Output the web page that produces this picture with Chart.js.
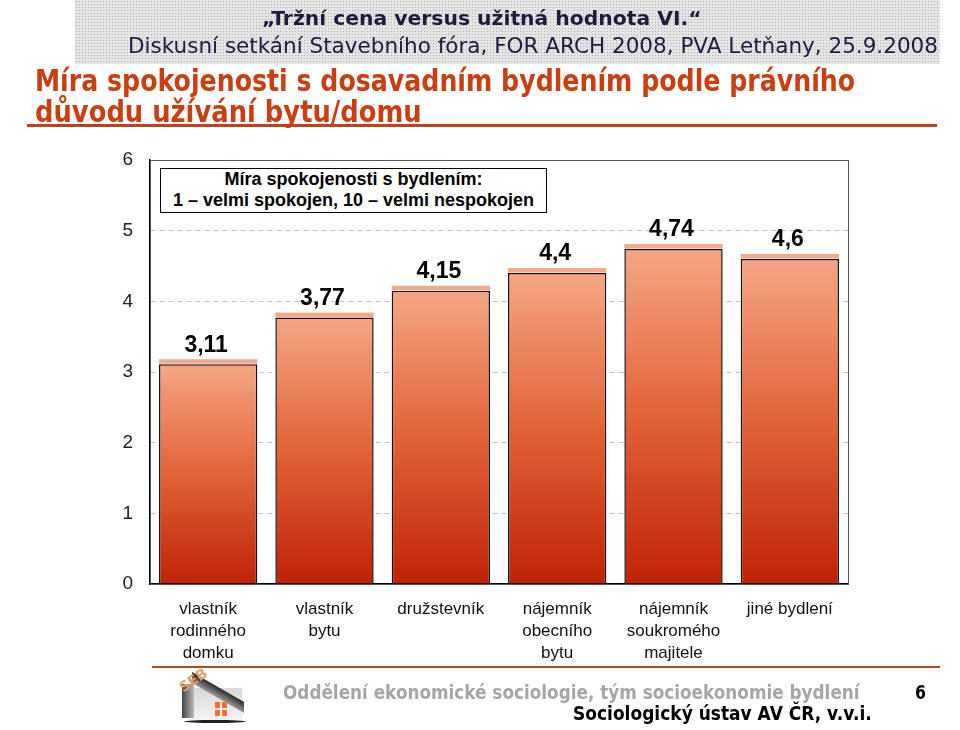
<!DOCTYPE html>
<html><head><meta charset="utf-8">
<script src="https://cdn.jsdelivr.net/npm/chart.js@4"></script>
<style>
body{margin:0;width:960px;height:730px;position:relative;background:#fff;overflow:hidden;font-family:"DejaVu Sans",sans-serif}
.t{position:absolute;white-space:nowrap;transform-origin:0 50%;line-height:1;z-index:3}
#band{position:absolute;left:75px;top:0;width:865px;height:64px;background-color:#e4e4e4;background-image:radial-gradient(#b0b0b0 0.7px,transparent 1px);background-size:3px 3px;z-index:0}
#uline{position:absolute;left:27px;top:124px;width:910px;height:3px;background:#c4401a;z-index:0}
#fline{position:absolute;left:152px;top:666px;width:788px;height:2px;background:#b24a22;z-index:0}
#legendbox{position:absolute;left:160px;top:168px;width:385px;height:43px;border:1px solid #000;background:#fff;z-index:3;font:bold 18px "Liberation Sans",Arial,sans-serif;text-align:center;line-height:21px;color:#000}
canvas{position:absolute;left:0;top:0;z-index:1}
#logo{position:absolute;left:178px;top:664px;width:72px;height:64px;z-index:2}
#wall{position:absolute;left:10px;top:24px;width:54px;height:32px;background:linear-gradient(#d8d8d8,#f4f4f4)}
#roof{position:absolute;left:14px;top:8px;width:52px;height:11px;background:linear-gradient(#2a2a2a,#9a9a9a);transform:skewY(30deg);transform-origin:0 0}
#roof2{position:absolute;left:4px;top:20px;width:12px;height:34px;background:linear-gradient(90deg,#444,#bbb)}
#seb{position:absolute;left:0px;top:8px;font:bold 14px "DejaVu Sans",sans-serif;color:#e9a060;transform:rotate(-35deg)}
.win{position:absolute;width:5px;height:6px;background:#f07030}
#base{position:absolute;left:6px;top:56px;width:62px;height:3px;border-radius:50%;background:#222}
</style></head><body>
<div id="band"></div>
<div id="uline"></div>
<div id="fline"></div>
<div class="t" data-w="440" style="left:262px;top:18px;font-weight:bold;font-size:20px;color:#1c1c3c">„Tržní cena versus užitná hodnota VI.“</div>
<div class="t" data-w="810" style="left:128px;top:46px;font-size:22px;color:#1c1c40">Diskusní setkání Stavebního fóra, FOR ARCH 2008, PVA Letňany, 25.9.2008</div>
<div class="t" data-w="820" style="left:35px;top:80px;font-weight:bold;font-size:31px;color:#cc3d0f">Míra spokojenosti s dosavadním bydlením podle právního</div>
<div class="t" data-w="387" style="left:35px;top:111px;font-weight:bold;font-size:31px;color:#cc3d0f">důvodu užívání bytu/domu</div>
<div class="t" data-w="577" style="left:283px;top:692px;font-weight:bold;font-size:20px;color:#a6a6a6">Oddělení ekonomické sociologie, tým socioekonomie bydlení</div>
<div class="t" data-w="299" style="left:573px;top:713px;font-weight:bold;font-size:20px;color:#000">Sociologický ústav AV ČR, v.v.i.</div>
<div class="t" data-w="11" style="left:915px;top:692px;font-weight:bold;font-size:20px;color:#000">6</div>
<div id="legendbox">Míra spokojenosti s bydlením:<br>1 – velmi spokojen, 10 – velmi nespokojen</div>
<div id="logo">
  <div id="wall"></div>
  <div id="roof2"></div>
  <div id="roof"></div>
  <div id="seb">SEB</div>
  <div class="win" style="left:37px;top:38px"></div><div class="win" style="left:44px;top:38px"></div>
  <div class="win" style="left:37px;top:46px"></div><div class="win" style="left:44px;top:46px"></div>
  <div id="base"></div>
</div>
<canvas id="c" width="960" height="730"></canvas>
<script>
const categories = [["vlastník","rodinného","domku"],["vlastník","bytu"],["družstevník"],["nájemník","obecního","bytu"],["nájemník","soukromého","majitele"],["jiné bydlení"]];
const values = [3.11, 3.77, 4.15, 4.4, 4.74, 4.6];
const valueLabels = ["3,11", "3,77", "4,15", "4,4", "4,74", "4,6"];
const yMin = 0, yMax = 6, yStep = 1;

document.querySelectorAll('.t').forEach(el => {
  const cy = parseFloat(el.style.top);
  const h = el.offsetHeight;
  el.style.top = (cy - h / 2) + 'px';
  const tw = parseFloat(el.dataset.w);
  const w = el.offsetWidth;
  el.style.transform = 'scaleX(' + (tw / w) + ')';
});

const deco = {
  id: 'deco',
  beforeDatasetsDraw(ch) {
    const a = ch.chartArea, c = ch.ctx;
    c.save();
    c.strokeStyle = '#555'; c.lineWidth = 1;
    c.strokeRect(a.left + 0.5, a.top + 0.5, a.right - a.left, a.bottom - a.top);
    c.restore();
  },
  afterDatasetsDraw(ch) {
    const c = ch.ctx;
    const meta = ch.getDatasetMeta(0);
    c.save();
    meta.data.forEach((b, i) => {
      const w = b.width;
      c.fillStyle = '#f3a98a';
      c.fillRect(b.x - w / 2, b.y - 5, w, 4.5);
      c.fillStyle = '#000';
      c.font = 'bold 23px "Liberation Sans", Arial, sans-serif';
      c.textAlign = 'center'; c.textBaseline = 'middle';
      c.fillText(valueLabels[i], b.x - 2, b.y - 19);
    });
    c.restore();
  }
};

new Chart(document.getElementById('c'), {
  type: 'bar',
  data: {
    labels: categories,
    datasets: [{
      data: values,
      backgroundColor: c => {
        const ch = c.chart;
        if (!ch.chartArea) return '#e87050';
        const y = ch.scales.y;
        const top = y.getPixelForValue(values[c.dataIndex]);
        const bot = y.getPixelForValue(0);
        const g = ch.ctx.createLinearGradient(0, top, 0, bot);
        g.addColorStop(0, '#f5a684');
        g.addColorStop(0.45, '#e4693f');
        g.addColorStop(1, '#c02206');
        return g;
      },
      borderColor: '#111',
      borderWidth: 1.5,
      borderSkipped: 'bottom',
      barPercentage: 0.845,
      categoryPercentage: 1
    }]
  },
  options: {
    responsive: false,
    animation: false,
    layout: { padding: { left: 0, top: 160, right: 112, bottom: 0 } },
    plugins: { legend: { display: false }, tooltip: { enabled: false } },
    scales: {
      x: {
        grid: { display: false },
        border: { display: true, color: '#000', width: 1.5 },
        ticks: { font: { size: 17, family: '"Liberation Sans", Arial, sans-serif', lineHeight: 1.3 }, color: '#111', padding: 6, maxRotation: 0, autoSkip: false },
        afterFit: s => { s.height = 146; }
      },
      y: {
        min: yMin, max: yMax,
        ticks: { stepSize: yStep, font: { size: 19, family: '"Liberation Sans", Arial, sans-serif' }, color: '#222', padding: 17 },
        grid: { drawTicks: false, lineWidth: 1, color: c => (c.tick && (c.tick.value === yMin || c.tick.value === yMax)) ? 'rgba(0,0,0,0)' : '#c4c4c4' },
        border: { display: true, color: '#000', width: 1.5, dash: [5, 4] },
        afterFit: s => { s.width = 150; }
      }
    }
  },
  plugins: [deco]
});
</script>
</body></html>
